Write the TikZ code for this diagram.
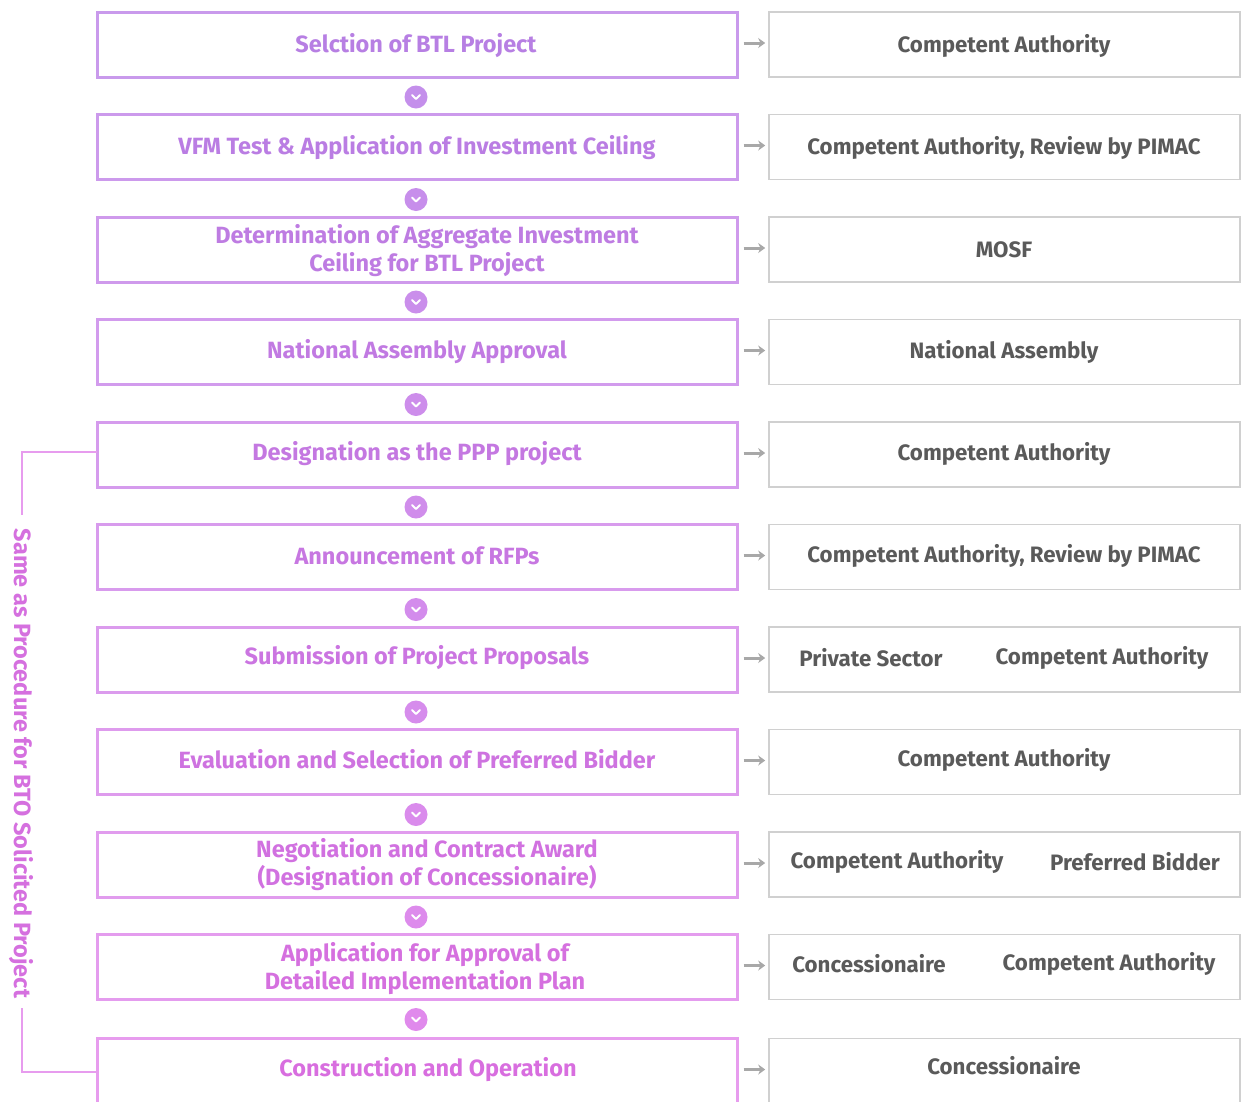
\documentclass[tikz,border=0pt]{standalone}
\usepackage{fontspec}
\setmainfont{Fira Sans}
\newfontfamily\lab{Fira Sans}
\usetikzlibrary{arrows.meta}
\definecolor{boxA}{HTML}{C99AEC}
\definecolor{boxB}{HTML}{E79CEE}
\definecolor{txtA}{HTML}{B77FE3}
\definecolor{txtB}{HTML}{D86EDF}
\definecolor{cirA}{HTML}{C48FEB}
\definecolor{cirB}{HTML}{E08AEC}
\definecolor{rgray}{HTML}{D0D0D0}
\definecolor{rtxt}{HTML}{5A5A5A}
\definecolor{agray}{HTML}{A8A8A8}
\tikzset{
  lbox/.style={draw=boxB!#1!boxA, line width=3pt, minimum width=640pt, minimum height=65pt, inner sep=0pt},
  ltext/.style={text=txtB!#1!txtA, font=\lab\bfseries\fontsize{23.5}{28}\selectfont, align=center, inner sep=0pt, yshift=-1.5pt},
  rbox/.style={draw=rgray, line width=1.6pt, minimum width=471pt, minimum height=65pt, inner sep=0pt},
  rtext/.style={text=rtxt, font=\lab\bfseries\fontsize{22.3}{26}\selectfont, inner sep=0pt, yshift=-1.5pt},
  conn/.style={draw=agray, line width=3pt, -{Stealth[length=7pt,width=10pt]}, shorten <=5pt, shorten >=3pt},
  chev/.style={circle, fill=cirB!#1!cirA, minimum size=23pt, inner sep=0pt},
  bracket/.style={draw=boxB, line width=2.5pt},
}
\begin{document}
\begin{tikzpicture}[x=1pt,y=-1pt]
\useasboundingbox (0,0) rectangle (1245,1101);
% left boxes
\node[lbox=0]  (L0)  at (417,44.5)  {};
\node[lbox=10] (L1)  at (417,147)   {};
\node[lbox=20] (L2)  at (417,249.5) {};
\node[lbox=30] (L3)  at (417,352)   {};
\node[lbox=40] (L4)  at (417,454.5) {};
\node[lbox=50] (L5)  at (417,557)   {};
\node[lbox=60] (L6)  at (417,659.5) {};
\node[lbox=70] (L7)  at (417,762)   {};
\node[lbox=80] (L8)  at (417,864.5) {};
\node[lbox=90] (L9)  at (417,967)   {};
\node[lbox=100] (L10) at (417,1071) {};
% left texts
\node[ltext=0]  (LT0)  at (416,44)  {Selction of BTL Project};
\node[ltext=10] (LT1)  at (417,146) {VFM Test \& Application of Investment Ceiling};
\node[ltext=20] (LT2)  at (427,249) {Determination of Aggregate Investment\\Ceiling for BTL Project};
\node[ltext=30] (LT3)  at (417,350) {National Assembly Approval};
\node[ltext=40] (LT4)  at (417,452) {Designation as the PPP project};
\node[ltext=50] (LT5)  at (417,554) {Announcement of RFPs};
\node[ltext=60] (LT6)  at (417,656) {Submission of Project Proposals};
\node[ltext=70] (LT7)  at (417,758) {Evaluation and Selection of Preferred Bidder};
\node[ltext=80] (LT8)  at (427,863) {Negotiation and Contract Award\\(Designation of Concessionaire)};
\node[ltext=90] (LT9)  at (425,967) {Application for Approval of\\Detailed Implementation Plan};
\node[ltext=100] (LT10) at (428,1068) {Construction and Operation};
% right boxes
\node[rbox] (R0)  at (1004.5,44.5)  {};
\node[rbox] (R1)  at (1004.5,147)   {};
\node[rbox] (R2)  at (1004.5,249.5) {};
\node[rbox] (R3)  at (1004.5,352)   {};
\node[rbox] (R4)  at (1004.5,454.5) {};
\node[rbox] (R5)  at (1004.5,557)   {};
\node[rbox] (R6)  at (1004.5,659.5) {};
\node[rbox] (R7)  at (1004.5,762)   {};
\node[rbox] (R8)  at (1004.5,864.5) {};
\node[rbox] (R9)  at (1004.5,967)   {};
\node[rbox] (R10) at (1004.5,1071)  {};
% right texts
\node[rtext] (RT0)  at (1004,44)  {Competent Authority};
\node[rtext] (RT1)  at (1004,146) {Competent Authority, Review by PIMAC};
\node[rtext] (RT2)  at (1004,248) {MOSF};
\node[rtext] (RT3)  at (1004,350) {National Assembly};
\node[rtext] (RT4)  at (1004,452) {Competent Authority};
\node[rtext] (RT5)  at (1004,554) {Competent Authority, Review by PIMAC};
\node[rtext] (RT6a) at (871,656)  {Private Sector};
\node[rtext] (RT6b) at (1102,656) {Competent Authority};
\node[rtext] (RT7)  at (1004,758) {Competent Authority};
\node[rtext] (RT8a) at (897,860)  {Competent Authority};
\node[rtext] (RT8b) at (1135,860) {Preferred Bidder};
\node[rtext] (RT9a) at (869,962)  {Concessionaire};
\node[rtext] (RT9b) at (1109,962) {Competent Authority};
\node[rtext] (RT10) at (1004,1064) {Concessionaire};
% arrows
\foreach \i in {0,...,9} { \draw[conn] ([yshift=1.5pt]L\i.east) -- ([yshift=1.5pt]R\i.west); }
\draw[conn] (L10.east |- LT10) -- (R10.west |- LT10);
% chevrons
\foreach \i/\p in {0/0,1/11,2/22,3/33,4/44,5/55,6/66,7/77,8/88,9/100} {
  \node[chev=\p] (C\i) at (416,{44.5+102.5*\i+52.5}) {};
  \draw[white, line width=2pt, line cap=round, line join=round]
    ([xshift=-4pt,yshift=2pt]C\i.center) -- ([yshift=-2pt]C\i.center) -- ([xshift=4pt,yshift=2pt]C\i.center);
}
% bracket
\coordinate (BT) at (22,515);
\coordinate (BB) at (22,1008);
\coordinate (LW4) at (97,452);
\coordinate (LW10) at (97,1072);
\draw[bracket] (LW4) -- (22,452) -- (BT);
\draw[bracket] (BB) -- (22,1072) -- (LW10);
\node[ltext=90, rotate=-90, yshift=1.5pt] (SP) at (20,762) {Same as Procedure for BTO Solicited Project};
\end{tikzpicture}
\end{document}
